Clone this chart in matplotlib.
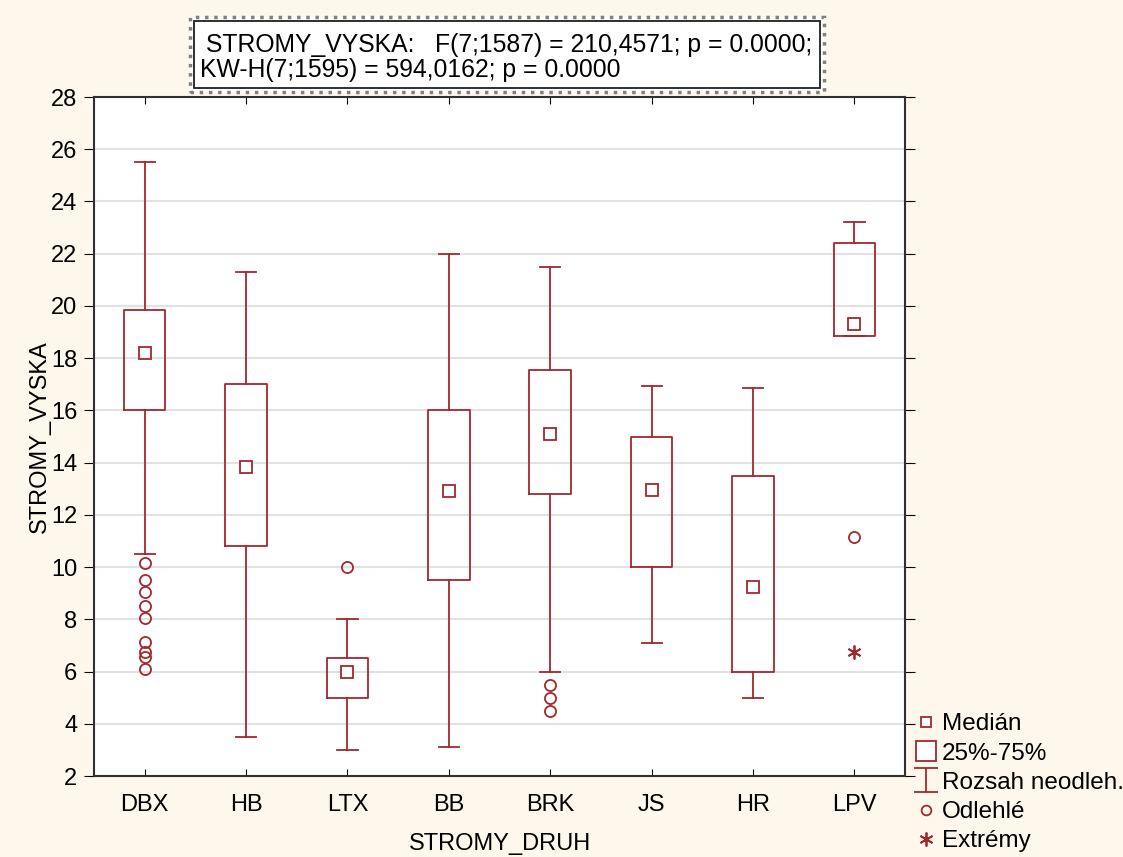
import matplotlib.pyplot as plt
from matplotlib.lines import Line2D
from matplotlib.patches import Rectangle
from matplotlib.path import Path

plt.rcParams['font.family'] = ['Liberation Sans', 'DejaVu Sans']

# values
species = ['DBX', 'HB', 'LTX', 'BB', 'BRK', 'JS', 'HR', 'LPV']
medians = [18.2, 13.85, 6.0, 12.9, 15.1, 12.95, 9.25, 19.3]
q1 = [16.0, 10.8, 5.0, 9.5, 12.8, 10.0, 6.0, 18.85]
q3 = [19.85, 17.0, 6.5, 16.0, 17.55, 15.0, 13.5, 22.4]
whis_lo = [10.5, 3.5, 3.0, 3.1, 6.0, 7.1, 5.0, 18.85]
whis_hi = [25.5, 21.3, 8.0, 22.0, 21.5, 16.95, 16.85, 23.2]
outliers = [
    [10.15, 9.5, 9.05, 8.5, 8.05, 7.15, 6.75, 6.55, 6.1],
    [], [10.0], [], [5.5, 5.0, 4.5], [], [], [11.15],
]
extremes = [[], [], [], [], [], [], [], [6.75]]

red = '#a3282d'
bg = '#fdf7ec'

fig = plt.figure(figsize=(11.23, 8.57), dpi=100)
fig.set_facecolor(bg)
ax = fig.add_axes([0.0837, 0.0945, 0.7223, 0.7923])
ax.set_facecolor('white')

stats = []
for i in range(len(species)):
    stats.append(dict(med=medians[i], q1=q1[i], q3=q3[i],
                      whislo=whis_lo[i], whishi=whis_hi[i], fliers=[]))
pos = list(range(len(species)))
ax.bxp(stats, positions=pos, widths=0.41, capwidths=0.2, showfliers=False,
       boxprops=dict(color=red, linewidth=1.3),
       whiskerprops=dict(color=red, linewidth=1.3),
       capprops=dict(color=red, linewidth=1.3),
       medianprops=dict(linewidth=0), zorder=3)

ax.plot(pos, medians, 's', ms=8, mfc='white', mec=red, mew=1.3, ls='none', zorder=4)
for i in pos:
    if outliers[i]:
        ax.plot([i] * len(outliers[i]), outliers[i], 'o', ms=8, mfc='none',
                mec=red, mew=1.3, ls='none', zorder=4)
    if extremes[i]:
        ax.plot([i] * len(extremes[i]), extremes[i], marker=(6, 2, 0), ms=10,
                color=red, mew=1.3, ls='none', zorder=4)

ax.set_xlim(-0.5, 7.5)
ax.set_ylim(2, 28)
ax.set_yticks(range(2, 29, 2))
ax.set_xticks(pos)
ax.set_xticklabels(species, fontsize=17)
ax.tick_params(axis='y', labelsize=17, direction='out', length=7, right=True, pad=5)
ax.tick_params(axis='x', direction='in', length=5, top=True, pad=13)
ax.yaxis.grid(True, color='#e2e2e2', linewidth=1.5, zorder=0)
ax.set_axisbelow(True)
for s in ax.spines.values():
    s.set_linewidth(1.5)
    s.set_color('#303030')
ax.set_xlabel('STROMY_DRUH', fontsize=17, labelpad=12)
ax.set_ylabel('STROMY_VYSKA', fontsize=17, labelpad=0)

# statistics box above the plot
fig.patches.append(Rectangle((190 / 1123, 1 - 92 / 857), 634 / 1123, 75 / 857,
                             transform=fig.transFigure, facecolor='white',
                             edgecolor='#808080', linestyle=':', linewidth=2.5))
fig.patches.append(Rectangle((194 / 1123, 1 - 88 / 857), 626 / 1123, 67 / 857,
                             transform=fig.transFigure, facecolor='white',
                             edgecolor='#202020', linewidth=1.3))
fig.text(206 / 1123, 1 - 45 / 857, 'STROMY_VYSKA:   F(7;1587) = 210,4571; p = 0.0000;',
         fontsize=17.8, va='center', ha='left')
fig.text(200 / 1123, 1 - 70 / 857, 'KW-H(7;1595) = 594,0162; p = 0.0000',
         fontsize=17.8, va='center', ha='left')

ibeam = Path([(-0.5, 0.5), (0.5, 0.5), (0, 0.5), (0, -0.5), (-0.5, -0.5), (0.5, -0.5)],
             [Path.MOVETO, Path.LINETO, Path.MOVETO, Path.LINETO, Path.MOVETO, Path.LINETO])
handles = [
    Line2D([], [], marker='s', ms=7, mfc='white', mec=red, mew=1.3, ls='none'),
    Line2D([], [], marker='s', ms=15, mfc='white', mec=red, mew=1.3, ls='none'),
    Line2D([], [], marker=ibeam, ms=17, color=red, mew=1.3, ls='none'),
    Line2D([], [], marker='o', ms=7, mfc='none', mec=red, mew=1.3, ls='none'),
    Line2D([], [], marker=(6, 2, 0), ms=10, color=red, mew=1.3, ls='none'),
]
labels = ['Medián', '25%-75%', 'Rozsah neodleh.', 'Odlehlé', 'Extrémy']
fig.legend(handles, labels, loc='lower left', bbox_to_anchor=(908 / 1123, -0.006),
           frameon=False, fontsize=17.5, handlelength=0.7, handletextpad=0.3,
           labelspacing=0.3, borderaxespad=0.0)

fig.savefig('out.png', dpi=100, facecolor=bg)
